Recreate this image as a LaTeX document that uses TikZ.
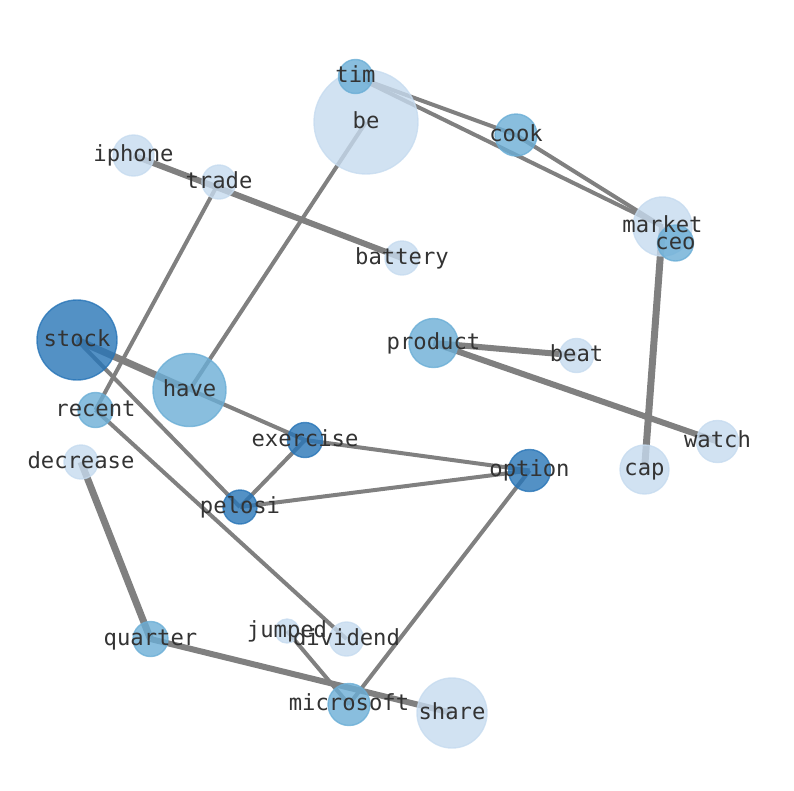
\documentclass[tikz,border=0pt]{standalone}
\usepackage{fontspec}
\newfontfamily\labfont{DejaVu Sans Mono}
\pgfdeclarelayer{edges}
\pgfdeclarelayer{labels}
\pgfsetlayers{edges,main,labels}
\definecolor{cdark}{RGB}{40,117,183}
\definecolor{cmid}{RGB}{107,174,214}
\definecolor{clight}{RGB}{198,219,239}
\definecolor{cedge}{RGB}{128,128,128}
\definecolor{ctext}{RGB}{51,51,51}
\tikzset{
  vtx/.style={circle, inner sep=0pt, minimum size=#1, line width=1.4pt, fill opacity=0.8, draw opacity=0.8},
  darkv/.style={vtx=#1, fill=cdark, draw=cdark},
  midv/.style={vtx=#1, fill=cmid, draw=cmid},
  lightv/.style={vtx=#1, fill=clight, draw=clight},
  lab/.style={inner sep=0pt, font=\labfont\fontsize{22.2}{26}\selectfont, text=ctext, text height=17.5pt, text depth=5.2pt, anchor=center},
  thin/.style={draw=cedge, line width=4pt},
  thick/.style={draw=cedge, line width=6pt},
  heavy/.style={draw=cedge, line width=7pt}
}
\begin{document}
\begin{tikzpicture}[x=1pt,y=-1pt]
\useasboundingbox (0,0) rectangle (794,790);
% nodes
\node[lightv=104] (be) at (366,122) {};
\node[midv=34] (tim) at (355.5,76.5) {};
\node[midv=42] (cook) at (516,135) {};
\node[lightv=41] (iphone) at (133.5,155.5) {};
\node[lightv=34] (trade) at (219,182) {};
\node[lightv=59] (market) at (662.5,226.5) {};
\node[midv=36] (ceo) at (675.5,243) {};
\node[lightv=34] (battery) at (402,258) {};
\node[darkv=80] (stock) at (77,340) {};
\node[midv=49] (product) at (433.5,343) {};
\node[lightv=34] (beat) at (576.5,355.5) {};
\node[midv=73] (have) at (189.5,390) {};
\node[midv=35] (recent) at (95.5,410) {};
\node[darkv=35] (exercise) at (305,440) {};
\node[lightv=42] (watch) at (717.5,441.5) {};
\node[lightv=34] (decrease) at (81,462) {};
\node[lightv=49] (cap) at (644.5,469.5) {};
\node[darkv=42] (option) at (529.5,470.5) {};
\node[darkv=34] (pelosi) at (240,507) {};
\node[midv=35] (quarter) at (150.5,639) {};
\node[lightv=24] (jumped) at (287,631) {};
\node[lightv=34] (dividend) at (346.5,639) {};
\node[midv=42] (microsoft) at (349,704.5) {};
\node[lightv=70] (share) at (452,713) {};
% edges
\begin{pgfonlayer}{edges}
\draw[thin] (tim.center) -- (cook.center);
\draw[thin] (tim.center) -- (market.center);
\draw[thin] (cook.center) -- (market.center);
\draw[thin] (be.center) -- (have.center);
\draw[thick] (iphone.center) -- (battery.center);
\draw[thin] (trade.center) -- (recent.center);
\draw[heavy] (market.center) -- (cap.center);
\draw[thick] (product.center) -- (beat.center);
\draw[thick] (product.center) -- (watch.center);
\draw[heavy] (stock.center) -- (have.center);
\draw[thin] (stock.center) -- (exercise.center);
\draw[thin] (stock.center) -- (pelosi.center);
\draw[thin] (recent.center) -- (dividend.center);
\draw[thin] (exercise.center) -- (pelosi.center);
\draw[thin] (exercise.center) -- (option.center);
\draw[thin] (pelosi.center) -- (option.center);
\draw[thin] (option.center) -- (microsoft.center);
\draw[thin] (jumped.center) -- (microsoft.center);
\draw[thick] (quarter.center) -- (share.center);
\draw[heavy] (decrease.center) -- (quarter.center);
\end{pgfonlayer}
% labels
\begin{pgfonlayer}{labels}
\foreach \n in {be,tim,cook,iphone,trade,market,ceo,battery,stock,product,beat,have,recent,exercise,watch,decrease,cap,option,pelosi,quarter,jumped,dividend,microsoft,share}
  \node[lab] (\n-t) at (\n) {\n};
\end{pgfonlayer}
\end{tikzpicture}
\end{document}
